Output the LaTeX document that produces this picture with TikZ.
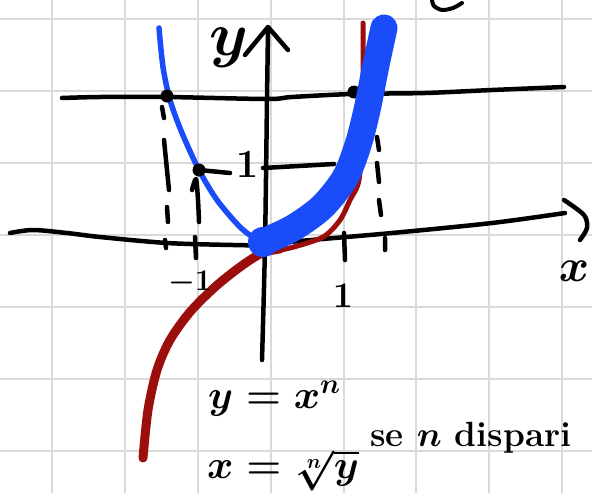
\RequirePackage{fix-cm}
\documentclass[tikz,border=0pt]{standalone}
\definecolor{penblue}{RGB}{26,76,250}
\definecolor{penred}{RGB}{155,14,12}
\begin{document}
\begin{tikzpicture}[
	x=1pt, y=-1pt,
	gridline/.style={ black!15, line width=2pt },
	pen/.style={ black, line width=4.5pt, line cap=round, line join=round },
	bluepen/.style={ penblue, line cap=round, line join=round },
	redpen/.style={ penred, line cap=round, line join=round },
	vertex/.style={ circle, fill, inner sep=0pt, minimum size=13pt },
	blob/.style={ circle, fill=penblue, inner sep=0pt, minimum size=30pt },
	lbl/.style={ inner sep=0pt, font=\fontsize{40}{48}\selectfont\bfseries\boldmath }
]
	\useasboundingbox (0,0) rectangle (592,493);
	\clip (0,0) rectangle (592,493);
	\fill[white] (0,0) rectangle (592,493);
	\foreach \gx in {52,125,198,271,344,416,489,562}
		\draw[gridline] (\gx,0) -- (\gx,493);
	\foreach \gy in {19,91,163,235,307,379,451}
		\draw[gridline] (0,\gy) -- (592,\gy);
	\draw[pen] plot[smooth] coordinates {(262,360) (265,245) (267,100) (268,30)};
	\draw[pen] (245,55) -- (268,27) -- (288,50);
	\draw[pen] plot[smooth] coordinates {(10,233) (33,230) (67,233) (100,237) (167,243) (233,245) (265,245) (300,241) (392,233) (492,223) (565,213)};
	\draw[pen] plot[smooth] coordinates {(564,200) (584,215) (587,228) (580,240)};
	\draw[pen] plot[smooth] coordinates {(62,98) (100,97) (167,97) (267,99) (292,97) (352,94) (425,93) (492,90) (564,87)};
	\draw[pen] (263,168) -- (334,164);
	\draw[pen] (162,107) -- (164,118) (164,140) -- (169,190) (167,207) -- (168,222) (165,240) -- (166,248);
	\draw[pen] plot[smooth] coordinates {(192,190) (196,179) (198,200) (199,222)};
	\draw[pen] (195,237) -- (196,258) (344,233) -- (345,260);
	\draw[pen] (377,137) -- (379,150) (377,163) -- (379,182) (379,200) -- (381,215) (385,238) -- (385,250);
	\draw[pen, line width=4pt] plot[smooth] coordinates {(432,0) (434,6) (442,10) (453,8) (462,3)};
	\draw[redpen, line width=9pt] plot[smooth] coordinates {(143,458) (148,410) (157,370) (170,340) (190,312) (215,287) (240,267) (262,253) (280,249)};
	\draw[redpen, line width=5pt] plot[smooth] coordinates {(262,253) (290,248) (323,237) (340,220) (350,200) (359,180) (362,130) (363,75) (363,23)};
	\draw[bluepen, line width=5.5pt] plot[smooth] coordinates {(159,28) (163,67) (170,100) (182,133) (199,170) (217,200) (240,227) (257,240) (263,242)};
	\node at (167,96) (pl) [vertex] {};
	\node at (354,92) (pr) [vertex] {};
	\node at (199,170) (pa) [vertex] {};
	\draw[pen] (pa.center) -- ++(31,3);
	\draw[bluepen, line width=27pt] plot[smooth] coordinates {(263,242) (293,228) (322,207) (345,178) (358,145) (367,110) (376,65) (384,28)};
	\node at (263,242) (o) [blob] {};
	\node at (229,48) (ly) [lbl, font=\fontsize{62}{68}\selectfont\boldmath] {$y$};
	\node at (574,271) (lx) [lbl, font=\fontsize{46}{50}\selectfont\boldmath] {$x$};
	\node at (247,165) (one) [lbl, font=\fontsize{40}{44}\selectfont\boldmath] {$1$};
	\node at (190,283) (mone) [lbl, font=\fontsize{30}{34}\selectfont\boldmath] {$-1$};
	\node at (343,296) (onex) [lbl, font=\fontsize{36}{40}\selectfont\boldmath] {$1$};
	\node at (208,408) (eqa) [lbl, anchor=base west] {$y = x^{n}$};
	\node at (207,478) (eqb) [lbl, anchor=base west] {$x = \sqrt[n]{y}$};
	\node at (370,446) (cond) [lbl, anchor=base west, font=\fontsize{35}{40}\selectfont\bfseries\boldmath] {se $n$ dispari};
\end{tikzpicture}
\end{document}
